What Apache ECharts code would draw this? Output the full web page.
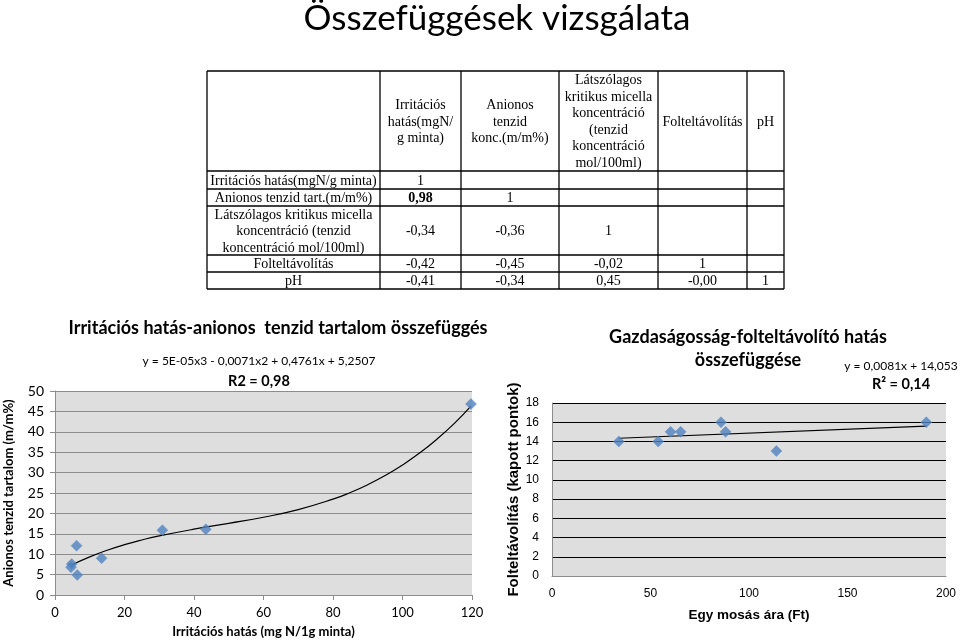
<!DOCTYPE html>
<html>
<head>
<meta charset="utf-8">
<script src="https://cdn.jsdelivr.net/npm/echarts@6/dist/echarts.min.js"></script>
<style>
html,body{margin:0;padding:0;background:#fff;}
#main{width:960px;height:643px;}
</style>
</head>
<body>
<div id="main"></div>
<script>
// ---------------- DATA ----------------
var pageTitle = 'Összefüggések vizsgálata';

// correlation table
var tableColHeaders = [
  'Irritációs\nhatás(mgN/\ng minta)',
  'Anionos\ntenzid\nkonc.(m/m%)',
  'Látszólagos\nkritikus micella\nkoncentráció\n(tenzid\nkoncentráció\nmol/100ml)',
  'Folteltávolítás',
  'pH'
];
var tableRowHeaders = [
  'Irritációs hatás(mgN/g minta)',
  'Anionos tenzid tart.(m/m%)',
  'Látszólagos kritikus micella\nkoncentráció (tenzid\nkoncentráció mol/100ml)',
  'Folteltávolítás',
  'pH'
];
var tableValues = [
  ['1', '', '', '', ''],
  ['0,98', '1', '', '', ''],
  ['-0,34', '-0,36', '1', '', ''],
  ['-0,42', '-0,45', '-0,02', '1', ''],
  ['-0,41', '-0,34', '0,45', '-0,00', '1']
];

// chart 1: irritation vs anionic tenside
var chart1Title = 'Irritációs hatás-anionos  tenzid tartalom összefüggés';
var chart1Equation = 'y = 5E-05x3 - 0,0071x2 + 0,4761x + 5,2507';
var chart1R2 = 'R2 = 0,98';
var chart1XName = 'Irritációs hatás (mg N/1g minta)';
var chart1YName = 'Anionos tenzid tartalom (m/m%)';
var chart1Points = [
  [4.6, 6.8], [4.8, 7.6], [6.2, 12.1], [6.4, 4.9],
  [13.4, 9.0], [30.9, 15.9], [43.4, 16.1], [119.7, 46.8]
];
var chart1Trend = [
  [4.6, 7.3], [10, 9.35], [15, 10.96], [20, 12.33], [25, 13.49], [30, 14.49],
  [40, 16.13], [50, 17.56], [60, 19.06], [70, 20.94], [80, 23.5], [85, 25.12],
  [90, 27.04], [95, 29.27], [100, 31.86], [105, 34.84], [110, 38.26],
  [115, 42.14], [119.7, 46.3]
];

// chart 2: price vs stain removal
var chart2TitleLines = ['Gazdaságosság-folteltávolító hatás', 'összefüggése'];
var chart2Equation = 'y = 0,0081x + 14,053';
var chart2R2 = 'R² = 0,14';
var chart2XName = 'Egy mosás ára (Ft)';
var chart2YName = 'Folteltávolítás (kapott pontok)';
var chart2Points = [
  [33.9, 14], [53.9, 14], [60.2, 15], [65.3, 15],
  [85.8, 16], [88.1, 15], [113.9, 13], [190, 16]
];
var chart2Trend = [[33.9, 14.33], [190, 15.59]];

// ---------------- LAYOUT / STYLE ----------------
var calibri = 'Lato, "Open Sans", sans-serif';
var arial = '"Liberation Sans", Arial, sans-serif';
var serif = '"Liberation Serif", "Times New Roman", serif';
var colEdges = [207, 380, 461, 559, 658, 747, 784];
var rowEdges = [71, 171, 189, 206, 255, 272, 289];
var boldCells = {'1,0': true};
var markerColor = '#4f81bd';

var graphics = [];
// main title
graphics.push({
  type: 'text', x: 497, y: 19, silent: true,
  style: {
    text: pageTitle, font: '35px ' + calibri, fill: '#000',
    align: 'center', verticalAlign: 'middle',
    shadowColor: 'rgba(0,0,0,0.45)', shadowBlur: 3, shadowOffsetX: 2, shadowOffsetY: 2
  }
});
// table lines
for (var i = 0; i < rowEdges.length; i++) {
  graphics.push({type: 'line', silent: true,
    shape: {x1: colEdges[0], y1: rowEdges[i], x2: colEdges[colEdges.length - 1], y2: rowEdges[i]},
    style: {stroke: '#000', lineWidth: 1.3}});
}
for (var j = 0; j < colEdges.length; j++) {
  graphics.push({type: 'line', silent: true,
    shape: {x1: colEdges[j], y1: rowEdges[0], x2: colEdges[j], y2: rowEdges[rowEdges.length - 1]},
    style: {stroke: '#000', lineWidth: 1.3}});
}
function cellText(txt, cx, cy, bold) {
  return {type: 'text', x: cx, y: cy, silent: true,
    style: {text: txt, font: (bold ? 'bold ' : '') + '14px ' + serif, fill: '#000',
      align: 'center', verticalAlign: 'middle', lineHeight: 16.5}};
}
tableColHeaders.forEach(function (h, c) {
  graphics.push(cellText(h, (colEdges[c + 1] + colEdges[c + 2]) / 2, (rowEdges[0] + rowEdges[1]) / 2 + 1));
});
tableRowHeaders.forEach(function (h, r) {
  var cy = (rowEdges[r + 1] + rowEdges[r + 2]) / 2 + 1;
  graphics.push(cellText(h, (colEdges[0] + colEdges[1]) / 2, cy));
  tableValues[r].forEach(function (v, c) {
    if (v !== '') graphics.push(cellText(v, (colEdges[c + 1] + colEdges[c + 2]) / 2, cy, boldCells[r + ',' + c]));
  });
});
// chart texts
function txt(t, x, y, font, align) {
  return {type: 'text', x: x, y: y, silent: true,
    style: {text: t, font: font, fill: '#000', align: align || 'center', verticalAlign: 'middle'}};
}
graphics.push(txt(chart1Title, 278, 328, 'bold 18px ' + calibri));
graphics.push(txt(chart1Equation, 259, 361, '12px ' + calibri));
graphics.push(txt(chart1R2, 259, 381, 'bold 14.5px ' + calibri));
graphics.push(txt(chart2TitleLines[0], 748, 337, 'bold 18px ' + calibri));
graphics.push(txt(chart2TitleLines[1], 748, 360, 'bold 18px ' + calibri));
graphics.push(txt(chart2Equation, 901, 366, '12px ' + calibri));
graphics.push(txt(chart2R2, 901, 384, 'bold 14.5px ' + calibri));

var option = {
  backgroundColor: '#fff',
  animation: false,
  grid: [
    {left: 55, top: 391, width: 417, height: 204, show: true, backgroundColor: '#dedede', borderWidth: 0,
     containLabel: false, outerBoundsMode: 'none'},
    {left: 552, top: 403, width: 394, height: 173, show: true, backgroundColor: '#dedede', borderWidth: 0,
     containLabel: false, outerBoundsMode: 'none'}
  ],
  xAxis: [
    {gridIndex: 0, type: 'value', min: 0, max: 120, interval: 20,
     name: chart1XName, nameLocation: 'middle', nameGap: 30,
     nameTextStyle: {fontFamily: calibri, fontWeight: 'bold', fontSize: 13, color: '#000'},
     axisLine: {lineStyle: {color: '#8c8c8c'}},
     axisTick: {show: true, length: 5, lineStyle: {color: '#8c8c8c'}},
     axisLabel: {fontFamily: calibri, fontSize: 13, color: '#000', margin: 11},
     splitLine: {show: false}},
    {gridIndex: 1, type: 'value', min: 0, max: 200, interval: 50,
     name: chart2XName, nameLocation: 'middle', nameGap: 32,
     nameTextStyle: {fontFamily: arial, fontWeight: 'bold', fontSize: 13.5, color: '#000'},
     axisLine: {lineStyle: {color: '#8c8c8c'}},
     axisTick: {show: false},
     axisLabel: {fontFamily: arial, fontSize: 12, color: '#000', margin: 12},
     splitLine: {show: false}}
  ],
  yAxis: [
    {gridIndex: 0, type: 'value', min: 0, max: 50, interval: 5,
     name: chart1YName, nameLocation: 'middle', nameGap: 40, nameRotate: 90,
     nameTextStyle: {fontFamily: calibri, fontWeight: 'bold', fontSize: 13, color: '#000'},
     axisLine: {show: true, lineStyle: {color: '#8c8c8c'}},
     axisTick: {show: true, length: 5, lineStyle: {color: '#8c8c8c'}},
     axisLabel: {fontFamily: calibri, fontSize: 14, color: '#000', margin: 11},
     splitLine: {show: true, lineStyle: {color: '#8c8c8c', width: 1}}},
    {gridIndex: 1, type: 'value', min: 0, max: 18, interval: 2,
     name: chart2YName, nameLocation: 'middle', nameGap: 31, nameRotate: 90,
     nameTextStyle: {fontFamily: arial, fontWeight: 'bold', fontSize: 15, color: '#000'},
     axisLine: {show: true, lineStyle: {color: '#8c8c8c'}},
     axisTick: {show: false},
     axisLabel: {fontFamily: arial, fontSize: 12, color: '#000', margin: 13},
     splitLine: {show: true, lineStyle: {color: '#000', width: 1}}}
  ],
  series: [
    {type: 'line', xAxisIndex: 0, yAxisIndex: 0, data: chart1Trend, smooth: true,
     showSymbol: false, lineStyle: {color: '#000', width: 1.2}, z: 3},
    {type: 'scatter', xAxisIndex: 0, yAxisIndex: 0, data: chart1Points,
     symbol: 'diamond', symbolSize: 11, itemStyle: {color: markerColor, borderColor: '#5a8ccc', borderWidth: 0.5}, z: 4},
    {type: 'line', xAxisIndex: 1, yAxisIndex: 1, data: chart2Trend,
     showSymbol: false, lineStyle: {color: '#000', width: 1.2}, z: 3},
    {type: 'scatter', xAxisIndex: 1, yAxisIndex: 1, data: chart2Points,
     symbol: 'diamond', symbolSize: 11, itemStyle: {color: markerColor, borderColor: '#5a8ccc', borderWidth: 0.5}, z: 4}
  ],
  graphic: graphics
};
var chart = echarts.init(document.getElementById('main'));
chart.setOption(option);
</script>
</body>
</html>
